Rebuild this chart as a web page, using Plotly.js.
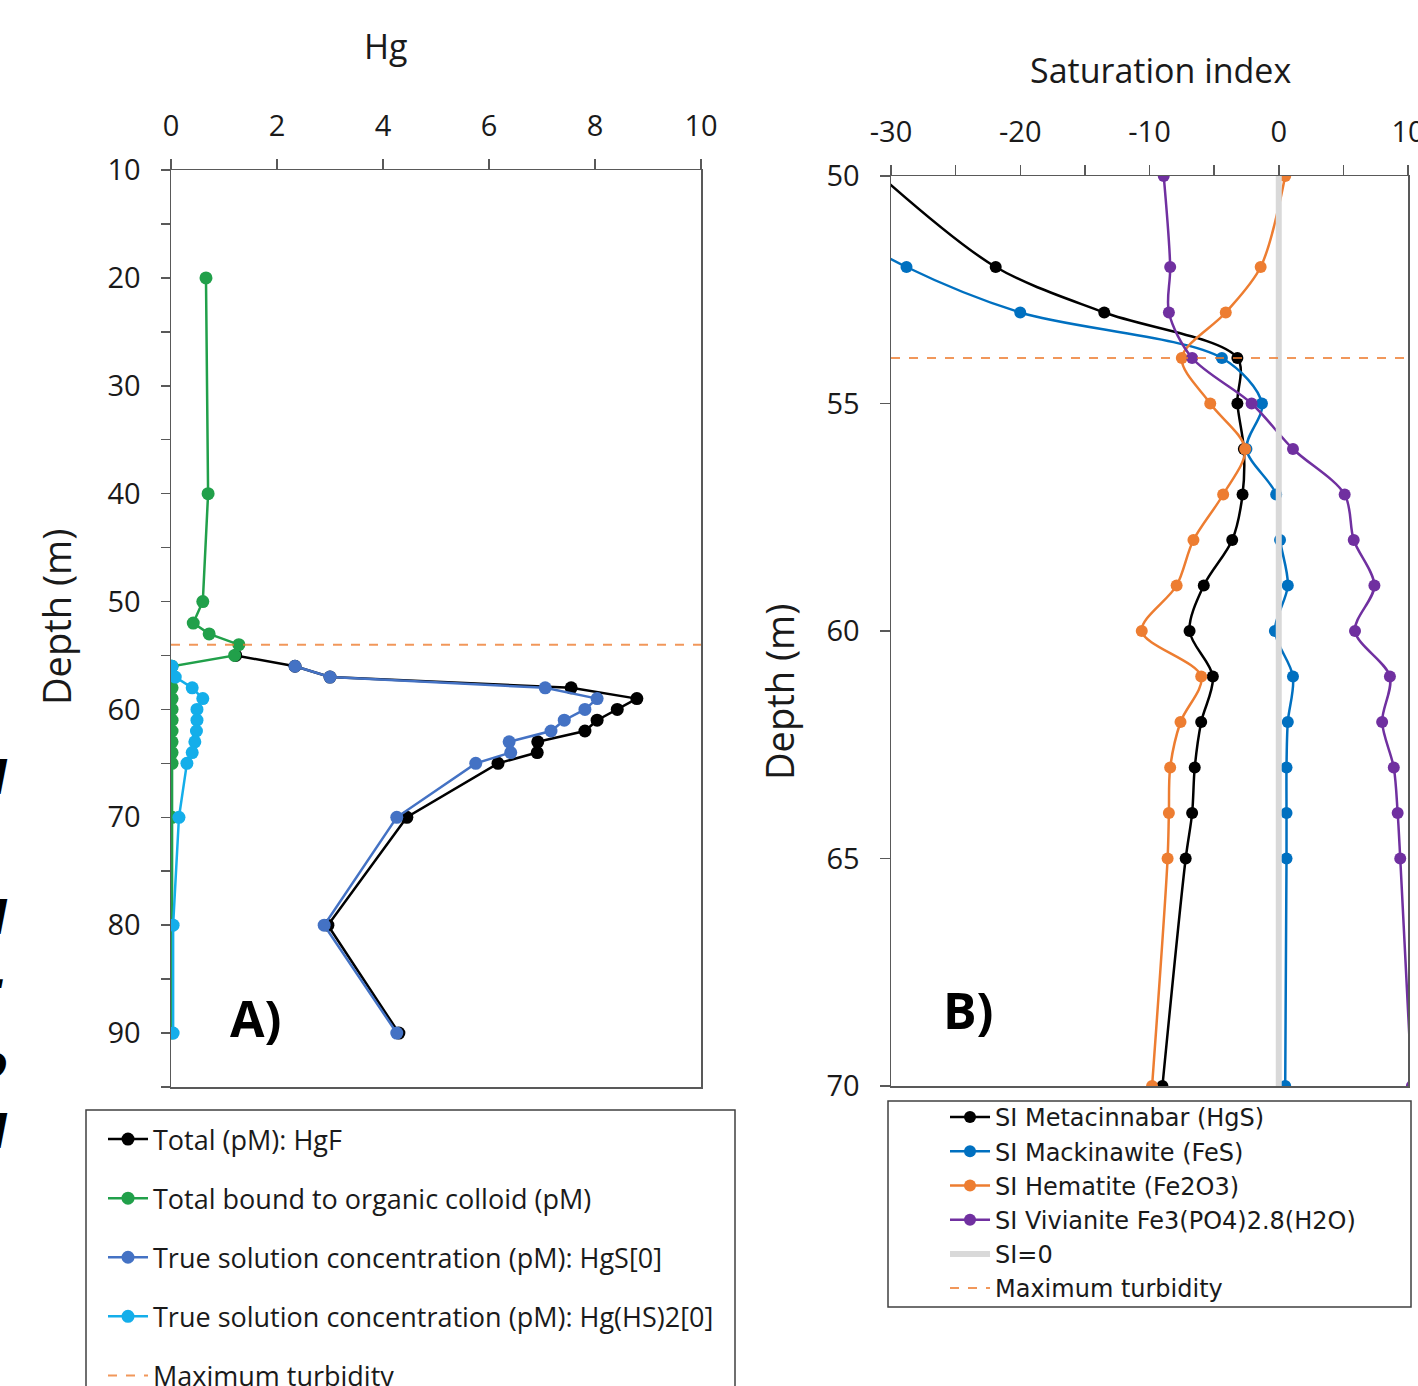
<!DOCTYPE html>
<html>
<head>
<meta charset="utf-8">
<script src="https://cdn.plot.ly/plotly-3.0.1.min.js"></script>
<style>
html,body{margin:0;padding:0;background:#fff;overflow:hidden;}
#chart{width:1418px;height:1386px;}
</style>
</head>
<body>
<div id="chart"></div>
<script>
// ---------- Panel A data (Hg, pM) ----------
const depthTotal = [55,56,57,58,59,60,61,62,63,64,65,70,80,90];
const hgTotal    = [1.22,2.34,3.0,7.55,8.79,8.42,8.04,7.81,6.92,6.91,6.17,4.45,2.96,4.30];

const depthColloid = [20,40,50,52,53,54,55,56,57,58,59,60,61,62,63,64,65,70,80,90];
const hgColloid    = [0.66,0.70,0.60,0.42,0.72,1.28,1.20,0.02,0.02,0.02,0.02,0.02,0.02,0.02,0.02,0.02,0.02,0.02,0.02,0.02];

const depthTrue = [56,57,58,59,60,61,62,63,64,65,70,80,90];
const hgHgS     = [2.34,3.0,7.06,8.04,7.81,7.42,7.17,6.38,6.41,5.75,4.26,2.89,4.26];
const hgHgHS2   = [0.02,0.08,0.40,0.60,0.49,0.49,0.48,0.45,0.40,0.30,0.15,0.04,0.04];

// ---------- Panel B data (saturation index) ----------
const depthSI        = [50,52,53,54,55,56,57,58,59,60,61,62,63,64,65,70];
const siMetacinnabar = [-30.8,-21.9,-13.5,-3.2,-3.2,-2.7,-2.8,-3.6,-5.8,-6.9,-5.1,-6.0,-6.5,-6.7,-7.2,-9.0];
const siMackinawite  = [-41.0,-28.8,-20.0,-4.4,-1.3,-2.5,-0.2,0.1,0.7,-0.3,1.1,0.7,0.6,0.6,0.6,0.5];
const siHematite     = [0.5,-1.4,-4.1,-7.5,-5.3,-2.6,-4.3,-6.6,-7.9,-10.6,-6.0,-7.6,-8.4,-8.5,-8.6,-9.8];
const siVivianite    = [-8.9,-8.4,-8.5,-6.7,-2.1,1.1,5.1,5.8,7.4,5.9,8.6,8.0,8.9,9.2,9.4,10.3];

const maxTurbidityDepth = 54;
const siZero = 0;

const rangeHg = [0, 10];
const rangeDepthA = [95, 10];
const rangeSI = [-30, 10];
const rangeDepthB = [70, 50];

const ticksHg = [0,2,4,6,8,10];
const ticksDepthA = [10,20,30,40,50,60,70,80,90];
const ticksSI = [-30,-20,-10,0,10];
const ticksDepthB = [50,55,60,65,70];

const titleHg = 'Hg';
const titleSI = 'Saturation index';
const titleDepth = 'Depth (m)';
const edgeFragments = ['l', 'l', '.', 'o', 'l'];

// ---------- styling ----------
const FONT = 'Open Sans, Lato, sans-serif';
const W = 1418, H = 1386;
const px = v => v / W;
const py = v => 1 - v / H;
const AX = '#595959';
const TXT = '#1a1a1a';

const cBlack = '#000000', cGreen = '#21a04a', cBlue = '#4472c4', cCyan = '#14aeea';
const cOrange = '#ed7d31', cMack = '#0070c0', cViv = '#7030a0', cGray = '#d9d9d9';

function lineTrace(name, x, y, color, axis, legend, group, opts) {
  opts = opts || {};
  const line = {color: color, width: 2.5, shape: opts.shape || 'linear'};
  if (opts.shape === 'spline') line.smoothing = 0.9;
  return {
    type: 'scatter', mode: 'lines+markers', name: name, x: x, y: y,
    xaxis: axis[0], yaxis: axis[1], legend: legend, legendgroup: group,
    line: line, marker: {color: color, size: opts.msize || 13}
  };
}

const traces = [
  lineTrace('Total (pM): HgF', hgTotal, depthTotal, cBlack, ['x','y'], 'legend', 'a1'),
  lineTrace('Total bound to organic colloid (pM)', hgColloid, depthColloid, cGreen, ['x','y'], 'legend', 'a2'),
  lineTrace('True solution concentration (pM): HgS[0]', hgHgS, depthTrue, cBlue, ['x','y'], 'legend', 'a3'),
  lineTrace('True solution concentration (pM): Hg(HS)2[0]', hgHgHS2, depthTrue, cCyan, ['x','y'], 'legend', 'a4'),
  {type:'scatter', mode:'lines', name:'Maximum turbidity', x: rangeHg, y:[maxTurbidityDepth, maxTurbidityDepth],
   xaxis:'x', yaxis:'y', legend:'legend', legendgroup:'a5',
   line:{color:cOrange, width:2, dash:'dash'}, opacity:0.8},

  lineTrace('SI Metacinnabar (HgS)', siMetacinnabar, depthSI, cBlack, ['x2','y2'], 'legend2', 'b1', {shape:'spline', msize:12}),
  lineTrace('SI Mackinawite (FeS)', siMackinawite, depthSI, cMack, ['x2','y2'], 'legend2', 'b2', {shape:'spline', msize:12}),
  lineTrace('SI Hematite (Fe2O3)', siHematite, depthSI, cOrange, ['x2','y2'], 'legend2', 'b3', {shape:'spline', msize:12}),
  lineTrace('SI Vivianite Fe3(PO4)2.8(H2O)', siVivianite, depthSI, cViv, ['x2','y2'], 'legend2', 'b4', {shape:'spline', msize:12}),
  {type:'scatter', mode:'lines', name:'SI=0', x:[siZero, siZero], y:[rangeDepthB[1], rangeDepthB[0]],
   xaxis:'x2', yaxis:'y2', legend:'legend2', legendgroup:'b5',
   line:{color:cGray, width:6}},
  {type:'scatter', mode:'lines', name:'Maximum turbidity', x: rangeSI, y:[maxTurbidityDepth, maxTurbidityDepth],
   xaxis:'x2', yaxis:'y2', legend:'legend2', legendgroup:'b6',
   line:{color:cOrange, width:2, dash:'dash'}, opacity:0.8}
];

const axisBase = {
  showline: true, linecolor: AX, linewidth: 1.5, mirror: true,
  ticks: 'outside', tickcolor: AX, tickwidth: 1.5, ticklen: 10,
  showgrid: false, zeroline: false, ticklabeloverflow: 'allow',
  tickfont: {family: FONT, size: 29, color: TXT}
};
const labels = arr => arr.map(v => String(v));

const annotations = [
  {text: titleHg, xref:'paper', yref:'paper', x:px(386), y:py(46), showarrow:false,
   font:{family: FONT, size: 34, color: TXT}, xanchor:'center', yanchor:'middle'},
  {text: titleSI, xref:'paper', yref:'paper', x:px(1160), y:py(70), showarrow:false,
   font:{family: FONT, size: 34, color: TXT}, xanchor:'center', yanchor:'middle'},
  {text: titleDepth, xref:'paper', yref:'paper', x:px(56), y:py(617), showarrow:false, textangle:-90,
   font:{family: FONT, size: 38, color: TXT}, xanchor:'center', yanchor:'middle'},
  {text: titleDepth, xref:'paper', yref:'paper', x:px(779), y:py(692), showarrow:false, textangle:-90,
   font:{family: FONT, size: 38, color: TXT}, xanchor:'center', yanchor:'middle'},
  {text:'<b>A)</b>', xref:'paper', yref:'paper', x:px(255), y:py(1018), showarrow:false,
   font:{family: FONT, size: 50, color:'#000'}, xanchor:'center', yanchor:'middle'},
  {text:'<b>B)</b>', xref:'paper', yref:'paper', x:px(968), y:py(1010), showarrow:false,
   font:{family: FONT, size: 50, color:'#000'}, xanchor:'center', yanchor:'middle'}
];
// cut-off italic text fragments at the far left edge of the picture
const fragY = [778, 918, 972, 1062, 1132];
edgeFragments.forEach((t, i) => {
  annotations.push({text:'<b><i>' + t + '</i></b>', xref:'paper', yref:'paper', x:px(9), y:py(fragY[i]),
    showarrow:false, xanchor:'right', yanchor:'middle', borderpad:0,
    font:{family:'DejaVu Sans, sans-serif', size:46, color:'#000'}});
});

const layout = {
  width: W, height: H,
  margin: {l: 0, r: 0, t: 0, b: 0, pad: 0, autoexpand: false},
  paper_bgcolor: '#ffffff', plot_bgcolor: '#ffffff',
  showlegend: true,
  font: {family: FONT, color: TXT},
  xaxis: Object.assign({}, axisBase, {
    domain: [px(171), px(701)], anchor: 'y', side: 'top',
    range: rangeHg, tickmode: 'array', tickvals: ticksHg, ticktext: labels(ticksHg),
    ticklabelstandoff: 11
  }),
  yaxis: Object.assign({}, axisBase, {
    domain: [py(1087), py(170)], anchor: 'x',
    range: rangeDepthA, tickmode: 'array', tickvals: ticksDepthA, ticktext: labels(ticksDepthA), ticklen: 9,
    minor: {dtick: 5, tick0: 0, ticks: 'outside', ticklen: 9, tickcolor: AX, tickwidth: 1.5, showgrid: false},
    ticklabelstandoff: 14
  }),
  xaxis2: Object.assign({}, axisBase, {
    domain: [px(891), px(1408)], anchor: 'y2', side: 'top',
    range: rangeSI, tickmode: 'array', tickvals: ticksSI, ticktext: labels(ticksSI),
    minor: {dtick: 5, tick0: 0, ticks: 'outside', ticklen: 10, tickcolor: AX, tickwidth: 1.5, showgrid: false},
    ticklabelstandoff: 11
  }),
  yaxis2: Object.assign({}, axisBase, {
    domain: [py(1086), py(176)], anchor: 'x2',
    range: rangeDepthB, tickmode: 'array', tickvals: ticksDepthB, ticktext: labels(ticksDepthB),
    ticklabelstandoff: 14
  }),
  legend: {
    x: px(103), y: py(1115), xanchor: 'left', yanchor: 'top',
    bgcolor: 'rgba(0,0,0,0)', borderwidth: 0,
    font: {family: FONT, size: 27, color: TXT},
    traceorder: 'grouped', tracegroupgap: 21, itemwidth: 40
  },
  legend2: {
    x: px(945), y: py(1095), xanchor: 'left', yanchor: 'top',
    bgcolor: 'rgba(0,0,0,0)', borderwidth: 0,
    font: {family: 'DejaVu Sans, sans-serif', size: 24, color: TXT},
    traceorder: 'grouped', tracegroupgap: 0, itemwidth: 40
  },
  shapes: [
    {type:'rect', xref:'paper', yref:'paper', x0:px(86), x1:px(735), y0:py(1400), y1:py(1110),
     line:{color:'#404040', width:1.5}, fillcolor:'rgba(0,0,0,0)', layer:'below'},
    {type:'rect', xref:'paper', yref:'paper', x0:px(888), x1:px(1411), y0:py(1307), y1:py(1101),
     line:{color:'#404040', width:1.5}, fillcolor:'rgba(0,0,0,0)', layer:'below'}
  ],
  annotations: annotations
};

Plotly.newPlot('chart', traces, layout, {displayModeBar: false, staticPlot: true});
</script>
</body>
</html>
